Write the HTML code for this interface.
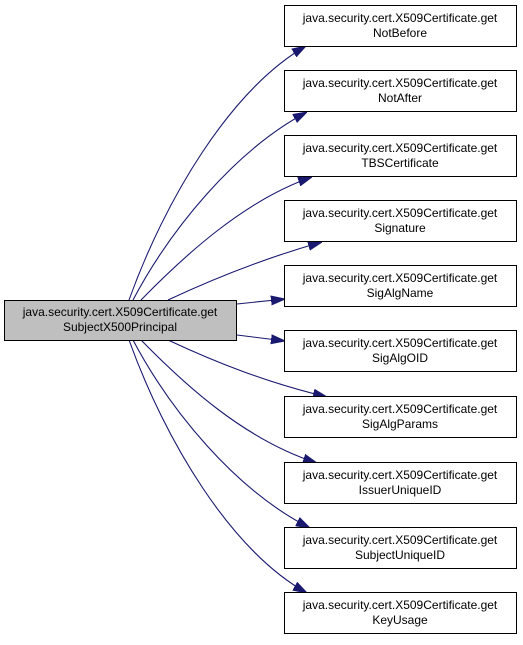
<!DOCTYPE html>
<html><head><style>
body{margin:0;background:#fff;}
svg text{font-family:"Liberation Sans",Arial,sans-serif;font-size:12px;}
</style></head><body>
<svg width="523" height="640" viewBox="0 0 523 640" xmlns="http://www.w3.org/2000/svg">
<defs>
<marker id="a" viewBox="0 0 14 10" refX="14" refY="5" markerWidth="14" markerHeight="10" markerUnits="userSpaceOnUse" orient="auto">
<path d="M0,0.5 L14,5 L0,9.5 Z" fill="#191970" stroke="#191970"/>
</marker>
</defs>
<g fill="none" stroke="#191970" stroke-width="1.1" marker-end="url(#a)">
<path d="M129,300 C165,200 230,90 306,46"/>
<path d="M133,300 C170,230 235,150 307,112"/>
<path d="M141,300 C185,255 245,200 312,177"/>
<path d="M168,300 C215,278 265,258 322,242"/>
<path d="M237,304 L285,299"/>
<path d="M237,335 L285,341"/>
<path d="M168,340 C215,362 265,382 327,397"/>
<path d="M141,340 C185,385 245,440 317,463"/>
<path d="M133,340 C170,410 235,490 310,528"/>
<path d="M129,340 C165,440 230,550 307,593"/>
</g>
<rect x="4.5" y="300.5" width="232" height="40" fill="#bfbfbf" stroke="#000"/>
<text x="120" y="316" text-anchor="middle">java.security.cert.X509Certificate.get</text>
<text x="120" y="331" text-anchor="middle">SubjectX500Principal</text>
<g fill="#fff" stroke="#000">
<rect x="284.5" y="5.5" width="232" height="41"/>
<rect x="284.5" y="70.5" width="232" height="41"/>
<rect x="284.5" y="135.5" width="232" height="41"/>
<rect x="284.5" y="200.5" width="232" height="41"/>
<rect x="284.5" y="265.5" width="232" height="41"/>
<rect x="284.5" y="330.5" width="232" height="41"/>
<rect x="284.5" y="396.5" width="232" height="41"/>
<rect x="284.5" y="462.5" width="232" height="41"/>
<rect x="284.5" y="527.5" width="232" height="41"/>
<rect x="284.5" y="592.5" width="232" height="41"/>
</g>
<g text-anchor="middle">
<text x="400" y="22">java.security.cert.X509Certificate.get</text><text x="400" y="37">NotBefore</text>
<text x="400" y="87">java.security.cert.X509Certificate.get</text><text x="400" y="102">NotAfter</text>
<text x="400" y="152">java.security.cert.X509Certificate.get</text><text x="400" y="167">TBSCertificate</text>
<text x="400" y="217">java.security.cert.X509Certificate.get</text><text x="400" y="232">Signature</text>
<text x="400" y="282">java.security.cert.X509Certificate.get</text><text x="400" y="297">SigAlgName</text>
<text x="400" y="347">java.security.cert.X509Certificate.get</text><text x="400" y="362">SigAlgOID</text>
<text x="400" y="413">java.security.cert.X509Certificate.get</text><text x="400" y="428">SigAlgParams</text>
<text x="400" y="479">java.security.cert.X509Certificate.get</text><text x="400" y="494">IssuerUniqueID</text>
<text x="400" y="544">java.security.cert.X509Certificate.get</text><text x="400" y="559">SubjectUniqueID</text>
<text x="400" y="609">java.security.cert.X509Certificate.get</text><text x="400" y="624">KeyUsage</text>
</g>
</svg>
</body></html>
